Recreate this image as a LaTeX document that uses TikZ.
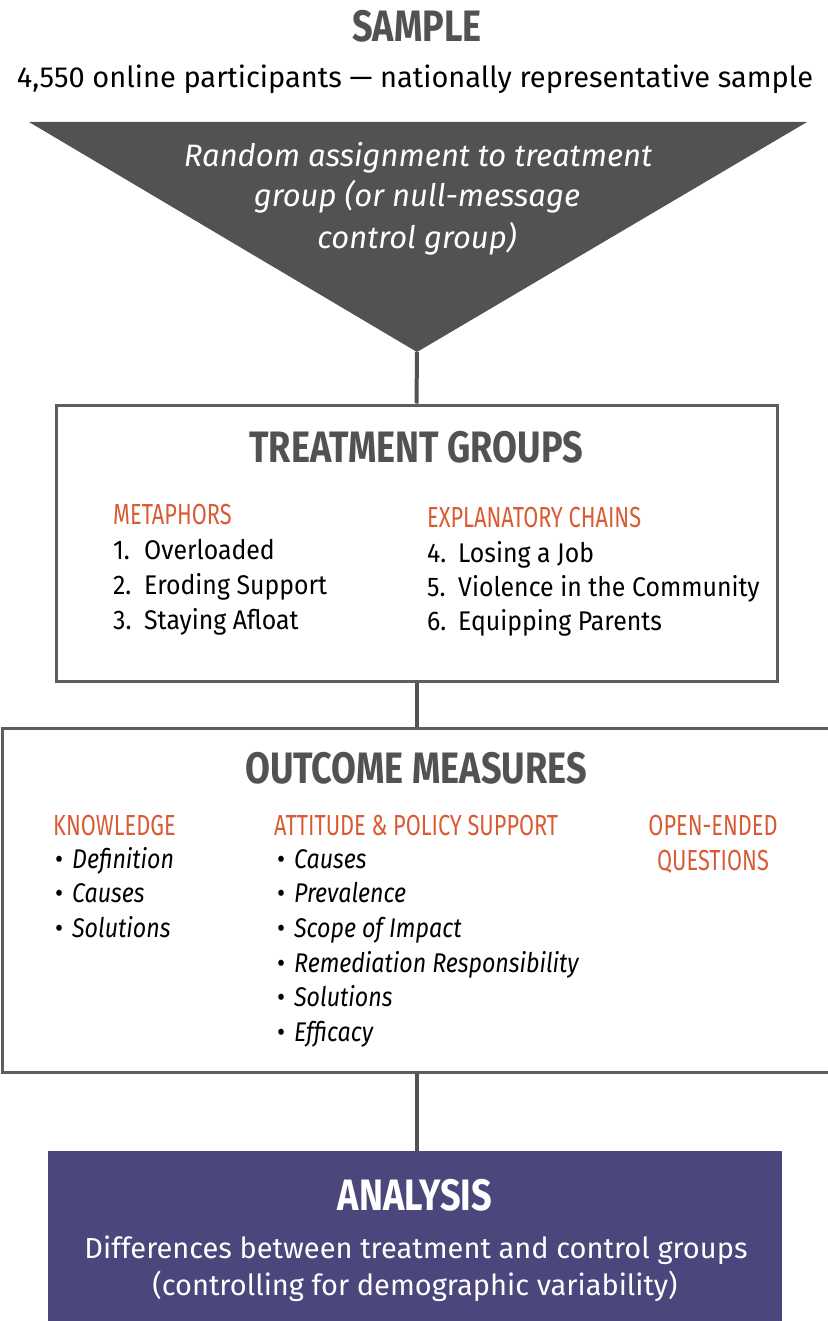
\documentclass[tikz,border=0pt]{standalone}
\usepackage{fontspec}
\setmainfont{Fira Sans}
\newfontfamily\itemfont{Fira Sans}[FakeStretch=0.92]
\newfontfamily\measurefont{Fira Sans}[FakeStretch=0.86]
\newfontfamily\condfont{Fira Sans}[FakeStretch=0.75]
\newfontfamily\headfont{Fira Sans}[FakeStretch=0.82]

\definecolor{sampgray}{HTML}{525252}
\definecolor{framegray}{HTML}{5E5E5E}
\definecolor{accent}{HTML}{D85B34}
\definecolor{analysisblue}{HTML}{4B467B}

\tikzset{
    head/.style={font=\headfont\bfseries\fontsize{44}{44}\selectfont, text=sampgray, anchor=base, inner sep=0},
    sub/.style={font=\condfont\fontsize{29}{29}\selectfont, text=accent, anchor=base west, inner sep=0},
    item/.style={font=\itemfont\fontsize{27}{27}\selectfont, anchor=base west, inner sep=0},
    measure/.style={font=\measurefont\itshape\fontsize{27}{27}\selectfont, anchor=base west, inner sep=0},
    line/.style={font=\fontsize{29}{29}\selectfont, anchor=base, inner sep=0},
    link/.style={draw=sampgray, line width=4pt},
    frame/.style={draw=framegray, line width=3pt},
}

\begin{document}
\begin{tikzpicture}[x=1pt, y=-1pt]
        \useasboundingbox (0,0) rectangle (827,1321);

        % Sample
        \node[head] (sample) at (417,42) {SAMPLE};
        \node[line] (participants) at (415,88) {4,550 online participants — nationally representative sample};

        % Funnel
        \fill[sampgray] (29,122) -- (807,122) -- (417,352) -- cycle;
        \coordinate (apex) at (417,352);
        \node[line, text=white, font=\itshape\fontsize{31}{31}\selectfont] (assign1) at (418,167) {Random assignment to treatment};
        \node[line, text=white, font=\itshape\fontsize{31}{31}\selectfont] (assign2) at (417,207) {group (or null-message};
        \node[line, text=white, font=\itshape\fontsize{31}{31}\selectfont] (assign3) at (417,249) {control group)};

        % Treatment groups
        \node[frame, minimum width=721pt, minimum height=276pt, inner sep=0] (treat) at (416.5,543) {};
        \draw[link] (apex) -- (treat.north);
        \node[head] (treattitle) at (416,462) {TREATMENT GROUPS};
        \node[sub] (metaphors) at (113,524) {METAPHORS};
        \foreach \n/\txt/\y in {1/Overloaded/559, 2/Eroding Support/594, 3/Staying Afloat/629} {
            \node[item] (num\n) at (113,\y) {\n.};
            \node[item] (frame\n) at (144,\y) {\txt};
        }
        \node[sub] (chains) at (427,527) {EXPLANATORY CHAINS};
        \foreach \n/\txt/\y in {4/Losing a Job/562, 5/Violence in the Community/596, 6/Equipping Parents/630} {
            \node[item] (num\n) at (427,\y) {\n.};
            \node[item] (frame\n) at (458,\y) {\txt};
        }

        % Outcome measures
        \node[frame, minimum width=834pt, minimum height=344pt, inner sep=0] (outcome) at (419,900) {};
        \draw[link] (treat.south) -- (treat.south |- outcome.north);
        \node[head] (outtitle) at (416,783) {OUTCOME MEASURES};
        \node[sub] (knowledge) at (53,835) {KNOWLEDGE};
        \foreach \txt [count=\i] in {Definition, Causes, Solutions} {
            \node[item] (kbullet\i) at (55,868+34.7*\i-34.7) {\textbullet};
            \node[measure] (know\i) at (72,868+34.7*\i-34.7) {\txt};
        }
        \node[sub] (attitude) at (274,835) {ATTITUDE \& POLICY SUPPORT};
        \foreach \txt [count=\i] in {Causes, Prevalence, Scope of Impact, Remediation Responsibility, Solutions, Efficacy} {
            \node[item] (abullet\i) at (277,868+34.7*\i-34.7) {\textbullet};
            \node[measure] (att\i) at (294,868+34.7*\i-34.7) {\txt};
        }
        \node[sub, anchor=base] (open1) at (713,835) {OPEN-ENDED};
        \node[sub, anchor=base] (open2) at (713,870) {QUESTIONS};

        % Analysis
        \node[fill=analysisblue, minimum width=734pt, minimum height=172pt, inner sep=0] (analysis) at (415,1237) {};
        \draw[link] (treat.south |- outcome.south) -- (treat.south |- analysis.north);
        \node[head, text=white] (antitle) at (415,1210) {ANALYSIS};
        \node[line, text=white] (diff1) at (416,1258) {Differences between treatment and control groups};
        \node[line, text=white] (diff2) at (415,1295) {(controlling for demographic variability)};
\end{tikzpicture}
\end{document}
